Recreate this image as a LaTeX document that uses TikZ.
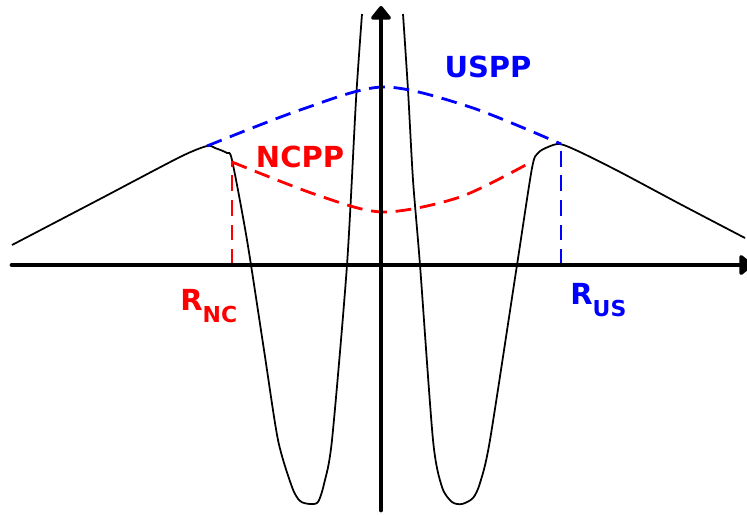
\documentclass[tikz,border=0pt]{standalone}
\usepackage{fontspec}
\setmainfont{DejaVu Sans}
\usetikzlibrary{arrows.meta}

\tikzset{
  axis/.style={line width=2.8pt, line cap=round, -{Triangle[width=13pt,length=8.5pt,round]}},
  wave/.style={line width=1pt},
  pseudo/.style={line width=1.6pt, dash pattern=on 9pt off 5pt},
  tag/.style={inner sep=0pt, font=\fontsize{16.5}{18}\selectfont\bfseries},
}
\newcommand{\cutoff}[1]{R\raisebox{-7pt}{\fontsize{12.5}{13}\selectfont #1}}

\begin{document}
\begin{tikzpicture}[x=0.02cm, y=-0.02cm]
\clip (0,0) rectangle (747,514);

% axes
\coordinate (xl) at (12,265);
\coordinate (xr) at (753,265);
\coordinate (yb) at (381,510);
\coordinate (yt) at (381,6);

% radii
\coordinate (nc) at (232,162);
\coordinate (ncax) at (232,265);
\coordinate (us) at (561,144);
\coordinate (usax) at (561,265);
\coordinate (usl) at (207,146);

% all-electron wavefunction
\draw[wave] plot[smooth, tension=0.45] coordinates {
  (12,245) (100,199) (180,157) (207,146) (215,148) (227,153) (232,160)
  (247,240) (264,350) (278,440) (292,487) (300,501) (310,504) (318,502)
  (324,484) (332,440) (347,265) (356,100) (362,14)};
\draw[wave] plot[smooth, tension=0.45] coordinates {
  (403,14) (408,90) (413,180) (420,265) (433,440) (442,487) (452,502)
  (462,504) (473,498) (480,483) (490,440) (517,265) (532,168) (538,153)
  (548,147) (560,144) (580,152) (620,172) (680,204) (745,238)};

% pseudo wavefunctions
\draw[pseudo, blue] plot[smooth, tension=0.5] coordinates {
  (usl) (300,110) (383,87) (470,107) (us)};
\draw[pseudo, red] plot[smooth, tension=0.5] coordinates {
  (nc) (317,195) (383,212) (460,197) (533,161)};
\draw[pseudo, red] (ncax) -- (nc);
\draw[pseudo, blue] (usax) -- (us);

\draw[axis] (xl) -- (xr);
\draw[axis] (yb) -- (yt);

\node[tag, blue] (uspp) at (488,67) {USPP};
\node[tag, red] (ncpp) at (300,157) {NCPP};
\node[tag, red, anchor=base west] (rnc) at (180,310) {\cutoff{NC}};
\node[tag, blue, anchor=base west] (rus) at (570,304) {\cutoff{US}};
\end{tikzpicture}
\end{document}
